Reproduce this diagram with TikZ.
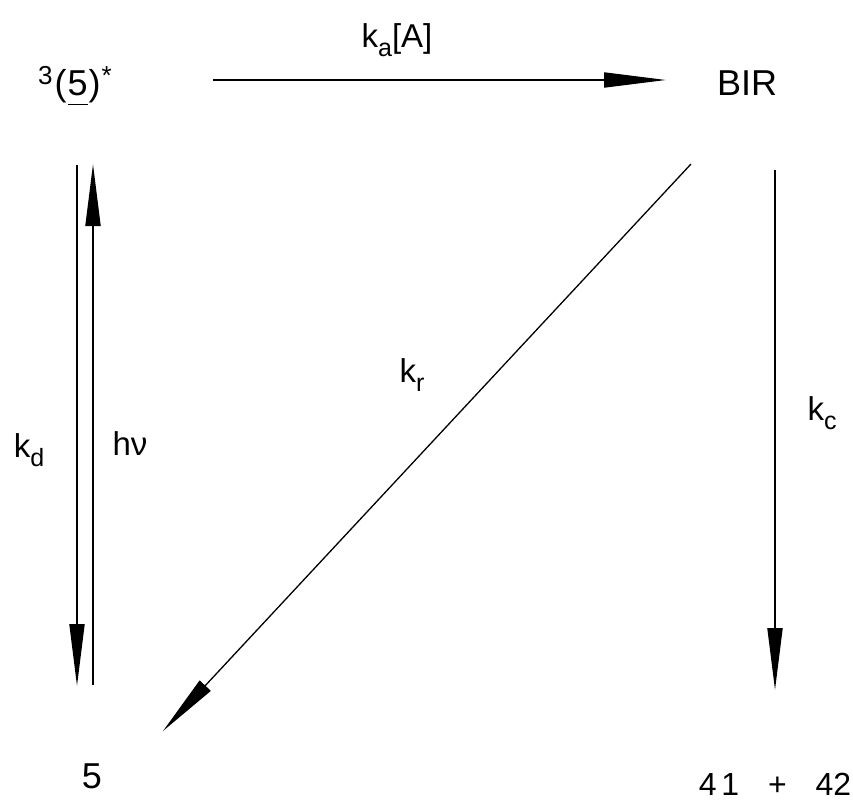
\documentclass[tikz,border=0pt]{standalone}
\usepackage{fontspec}
\setmainfont{Liberation Sans}
\usetikzlibrary{arrows.meta}
\newcommand{\rsub}[1]{\raisebox{-0.3em}{\fontsize{25}{25}\selectfont #1}}
\newcommand{\rsup}[1]{\raisebox{0.3em}{\fontsize{26}{26}\selectfont #1}}

\begin{document}
\begin{tikzpicture}[x=1pt, y=-1pt,
  species/.style={font=\fontsize{36}{38}\selectfont, inner sep=0pt, anchor=base},
  rate/.style={font=\fontsize{33}{35}\selectfont, inner sep=0pt, anchor=base},
  reaction/.style={line width=1.9pt, -{Triangle[length=62pt, width=15pt]}},
]
  \useasboundingbox (0,0) rectangle (853,811);

  % species
  \node[species] (ex) at (75,95) {\rsup{3}\hspace{2pt}(\hspace{1pt}\underline{5\rule[-0.22em]{0pt}{0pt}}\hspace{1pt})\hspace{1pt}\rsup{*}};
  \node[species] (bir) at (747,95) {BIR};
  \node[species] (five) at (92,788) {5};
  \node[species, font=\fontsize{32}{34}\selectfont] (prod) at (775,795) {4\hspace{0.15em}1\hspace{0.9em}+\hspace{0.9em}42};

  % arrow ends
  \coordinate (a1) at (213,80);
  \coordinate (a2) at (666,80);
  \coordinate (d1) at (77,165);
  \coordinate (d2) at (77,686);
  \coordinate (h1) at (93,685);
  \coordinate (h2) at (93,164);
  \coordinate (r1) at (691,164);
  \coordinate (r2) at (163,731);
  \coordinate (c1) at (775,170);
  \coordinate (c2) at (775,690);

  \draw[reaction] (a1) -- (a2);
  \draw[reaction] (d1) -- (d2);
  \draw[reaction] (h1) -- (h2);
  \draw[reaction, line width=1.3pt] (r1) -- (r2);
  \draw[reaction] (c1) -- (c2);

  % rate labels
  \node[rate] (ka) at (397,47) {k\rsub{a}[A]};
  \node[rate] (kd) at (29,457) {k\rsub{d}};
  \node[rate] (hv) at (130,455) {hν};
  \node[rate] (kr) at (412,382) {k\rsub{r}};
  \node[rate] (kc) at (822,420) {k\rsub{c}};
\end{tikzpicture}
\end{document}
